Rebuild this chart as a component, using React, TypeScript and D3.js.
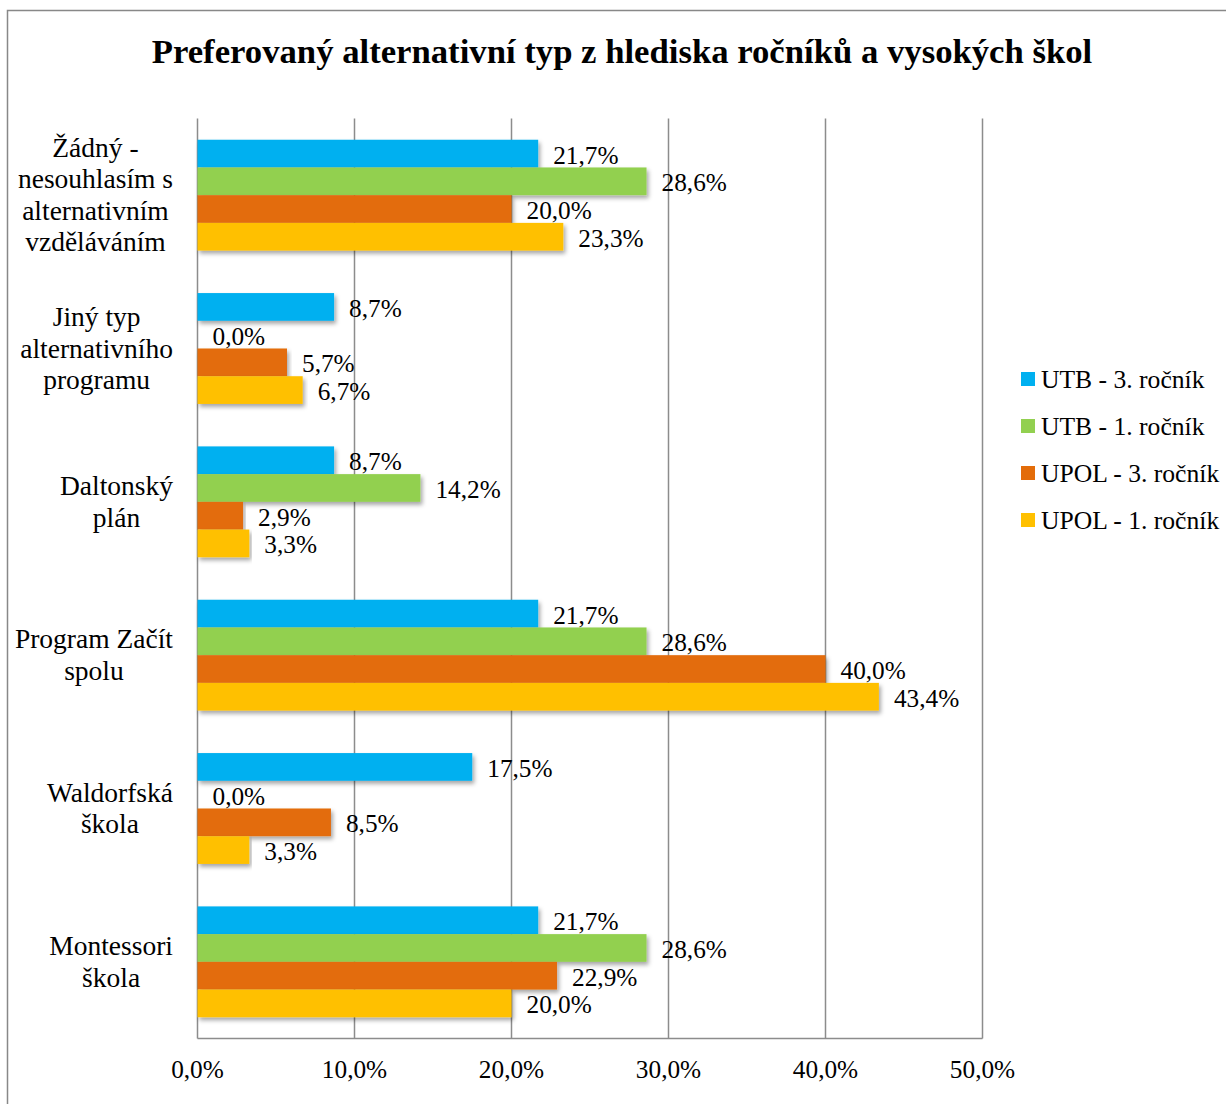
import React from "react";
import * as d3 from "d3";

const title = "Preferovaný alternativní typ z hlediska ročníků a vysokých škol";
const categories = [
  "Žádný - nesouhlasím s alternativním vzděláváním",
  "Jiný typ alternativního programu",
  "Daltonský plán",
  "Program Začít spolu",
  "Waldorfská škola",
  "Montessori škola",
];
const categoryLines = [
  ["Žádný -", "nesouhlasím s", "alternativním", "vzděláváním"],
  ["Jiný typ", "alternativního", "programu"],
  ["Daltonský", "plán"],
  ["Program Začít", "spolu"],
  ["Waldorfská", "škola"],
  ["Montessori", "škola"],
];
const seriesNames = ["UTB - 3. ročník", "UTB - 1. ročník", "UPOL - 3. ročník", "UPOL - 1. ročník"];
const seriesColors = ["#00B0F0", "#92D050", "#E36C09", "#FFC000"];
const utb3 = [21.7, 8.7, 8.7, 21.7, 17.5, 21.7];
const utb1 = [28.6, 0.0, 14.2, 28.6, 0.0, 28.6];
const upol3 = [20.0, 5.7, 2.9, 40.0, 8.5, 22.9];
const upol1 = [23.3, 6.7, 3.3, 43.4, 3.3, 20.0];
const seriesValues = [utb3, utb1, upol3, upol1];
const xTicks = [0, 10, 20, 30, 40, 50];

const fmt = (v: number) => v.toFixed(1).replace(".", ",") + "%";

const catFont = 27.5;
let measureCtx: CanvasRenderingContext2D | null = null;
function measure(s: string): number {
  if (!measureCtx) {
    const c = document.createElement("canvas");
    measureCtx = c.getContext("2d");
  }
  if (!measureCtx) return s.length * catFont * 0.45;
  measureCtx.font = `${catFont}px "Liberation Serif", "Times New Roman", serif`;
  return measureCtx.measureText(s).width;
}

export default function App() {
  const W = 1226;
  const H = 1104;
  const left = 197.5;
  const right = 982.5;
  const top = 118.5;
  const bottom = 1038.5;

  const x = d3.scaleLinear().domain([0, 50]).range([left, right]);
  const pi = 0.277;
  const y = d3.scaleBand<string>().domain(categories).range([top, bottom]).paddingInner(pi).paddingOuter(pi / 2);
  const ys = d3.scaleBand<number>().domain([0, 1, 2, 3]).range([0, y.bandwidth()]).padding(0);

  const serif = "'Liberation Serif', 'Times New Roman', serif";
  const gridColor = "#8c8c8c";
  const labelRight = 173;

  return (
    <svg
      width={W}
      height={H}
      style={{ position: "absolute", left: 0, top: 0, background: "#fff" }}
      fontFamily={serif}
    >
      <defs>
        <filter id="shadow" x="-5%" y="-30%" width="110%" height="180%">
          <feDropShadow dx="2" dy="3" stdDeviation="2" floodColor="#000" floodOpacity="0.35" />
        </filter>
      </defs>
      <rect x={0} y={0} width={W} height={H} fill="#fff" />
      <rect x={7.5} y={10.5} width={W + 20} height={H + 20} fill="none" stroke="#888" strokeWidth={1.5} />

      <text x={622} y={63} textAnchor="middle" fontWeight="bold" fontSize={34.7} fill="#000">
        {title}
      </text>

      {/* gridlines */}
      {xTicks.map((t) => (
        <line key={"g" + t} x1={x(t)} x2={x(t)} y1={top} y2={bottom} stroke={gridColor} strokeWidth={1.5} />
      ))}
      <line x1={left} x2={right} y1={bottom} y2={bottom} stroke={gridColor} strokeWidth={1.5} />

      {/* bars */}
      {categories.map((c, ci) => (
        <g key={"c" + ci} transform={`translate(0,${y(c)})`}>
          {seriesValues.map((vals, si) => {
            const v = vals[ci];
            const by = ys(si) as number;
            return (
              <g key={"b" + si}>
                {v > 0 && (
                  <rect
                    x={x(0)}
                    y={by}
                    width={x(v) - x(0)}
                    height={ys.bandwidth()}
                    fill={seriesColors[si]}
                    filter="url(#shadow)"
                  />
                )}
                <text x={x(v) + 15} y={by + ys.bandwidth() / 2 + 10} fontSize={25.3} fill="#000">
                  {fmt(v)}
                </text>
              </g>
            );
          })}
        </g>
      ))}

      {/* category labels */}
      {categories.map((c, ci) => {
        const lines = categoryLines[ci];
        const maxW = Math.max(...lines.map(measure));
        const cx = labelRight - maxW / 2;
        const cy = (y(c) as number) + y.bandwidth() / 2;
        const lh = 31.5;
        const first = cy - ((lines.length - 1) / 2) * lh + 9;
        return (
          <text key={"l" + ci} x={cx} textAnchor="middle" fontSize={catFont} fill="#000">
            {lines.map((ln, li) => (
              <tspan key={li} x={cx} y={first + li * lh}>
                {ln}
              </tspan>
            ))}
          </text>
        );
      })}

      {/* x axis labels */}
      {xTicks.map((t) => (
        <text key={"t" + t} x={x(t)} y={1078} textAnchor="middle" fontSize={25.3} fill="#000">
          {fmt(t)}
        </text>
      ))}

      {/* legend */}
      {seriesNames.map((n, i) => {
        const cy = 379 + i * 47;
        return (
          <g key={"lg" + i}>
            <rect x={1021} y={cy - 7} width={14} height={14} fill={seriesColors[i]} />
            <text x={1041} y={cy + 9} fontSize={25.6} fill="#000">
              {n}
            </text>
          </g>
        );
      })}
    </svg>
  );
}
